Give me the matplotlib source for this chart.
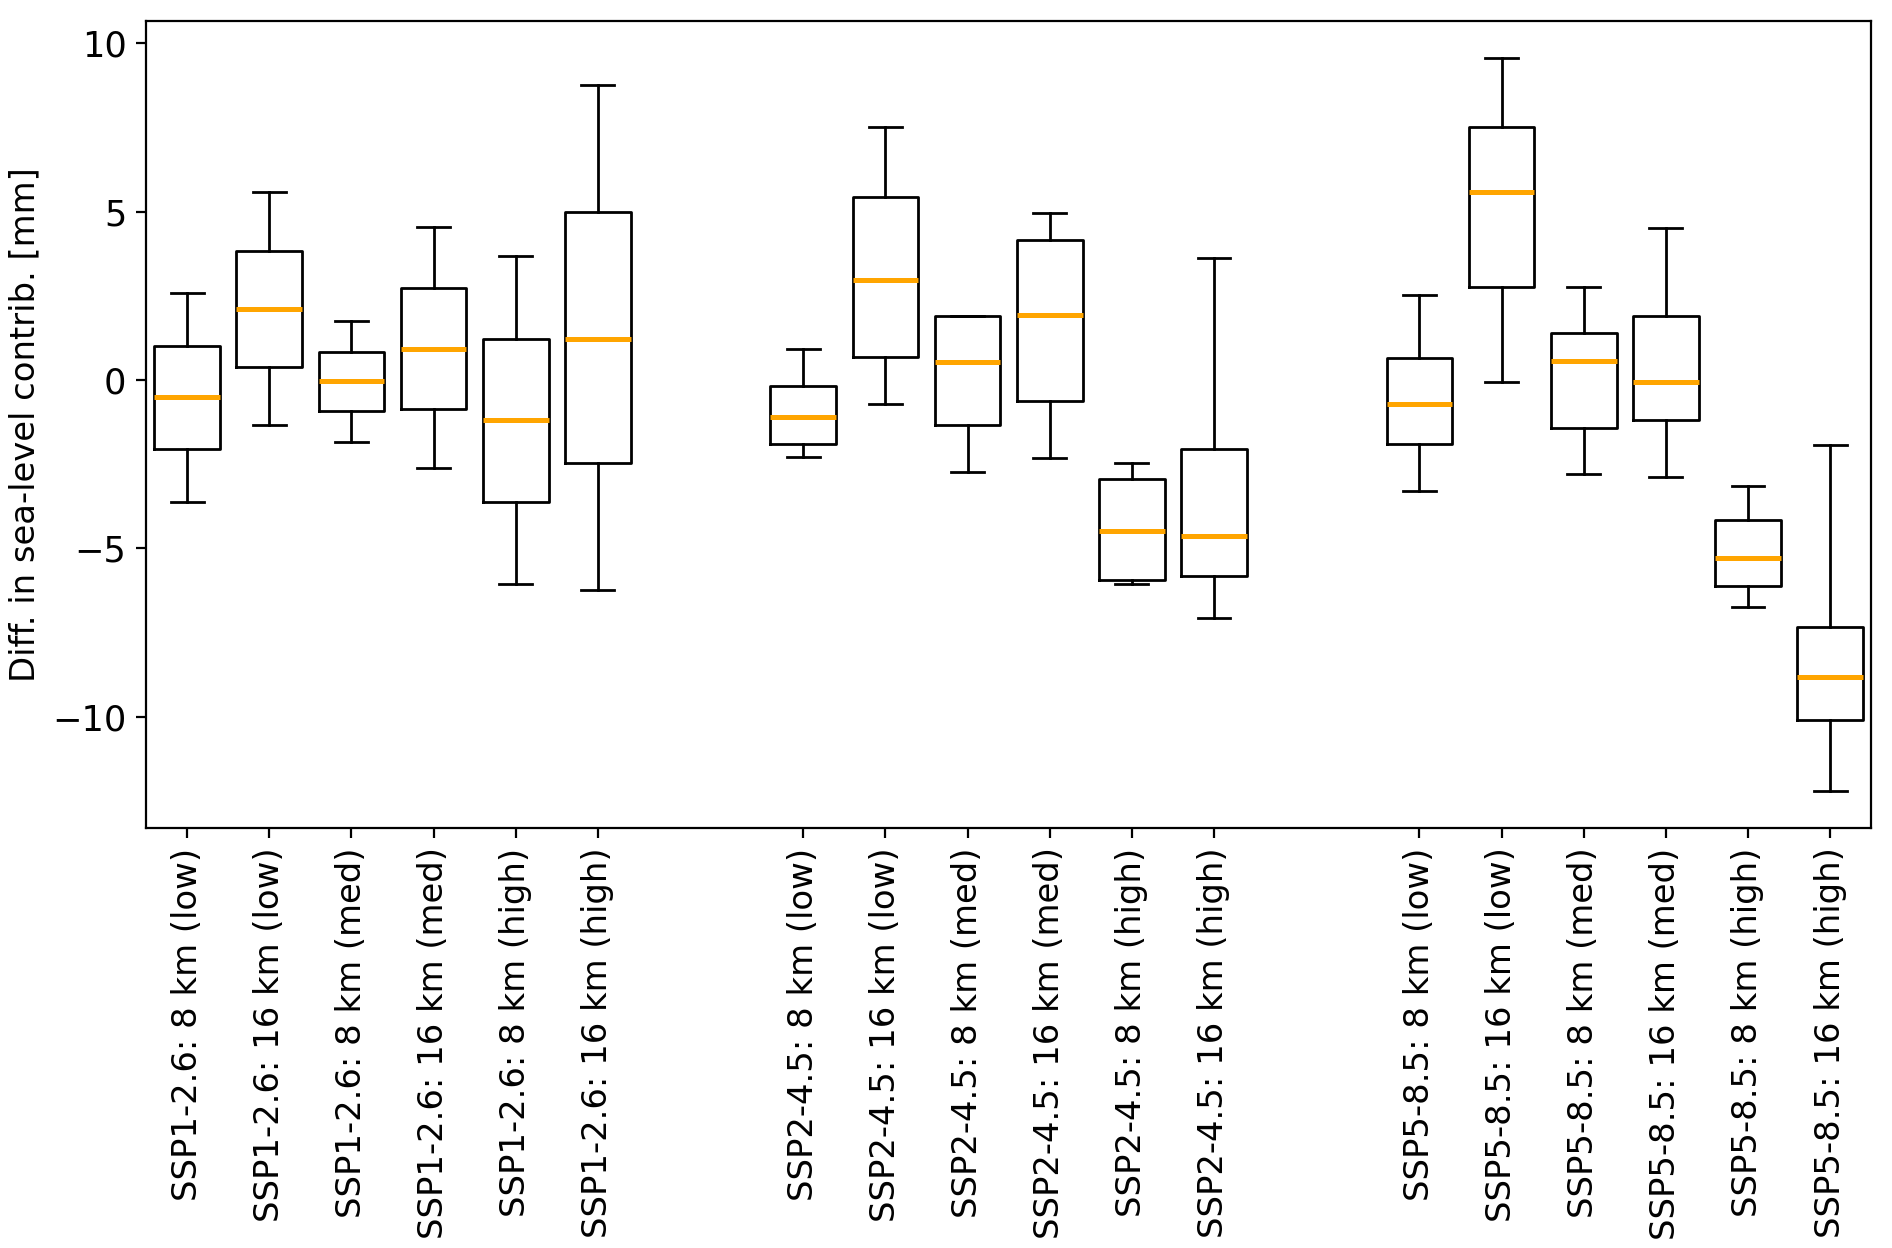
import numpy as np
import matplotlib
matplotlib.use('Agg')
import matplotlib.pyplot as plt

# box statistics (mm)
labels = ['SSP1-2.6: 8 km (low)', 'SSP1-2.6: 16 km (low)', 'SSP1-2.6: 8 km (med)',
          'SSP1-2.6: 16 km (med)', 'SSP1-2.6: 8 km (high)', 'SSP1-2.6: 16 km (high)',
          'SSP2-4.5: 8 km (low)', 'SSP2-4.5: 16 km (low)', 'SSP2-4.5: 8 km (med)',
          'SSP2-4.5: 16 km (med)', 'SSP2-4.5: 8 km (high)', 'SSP2-4.5: 16 km (high)',
          'SSP5-8.5: 8 km (low)', 'SSP5-8.5: 16 km (low)', 'SSP5-8.5: 8 km (med)',
          'SSP5-8.5: 16 km (med)', 'SSP5-8.5: 8 km (high)', 'SSP5-8.5: 16 km (high)']

positions = [1, 2, 3, 4, 5, 6,
             8.5, 9.5, 10.5, 11.5, 12.5, 13.5,
             16, 17, 18, 19, 20, 21]

whislo = [-3.62, -1.33, -1.83, -2.62, -6.06, -6.24,
          -2.29, -0.72, -2.72, -2.33, -6.06, -7.06,
          -3.30, -0.07, -2.80, -2.87, -6.74, -12.22]
q1 = [-2.04, 0.39, -0.93, -0.86, -3.62, -2.47,
      -1.90, 0.68, -1.33, -0.61, -5.95, -5.81,
      -1.90, 2.76, -1.43, -1.18, -6.13, -10.10]
med = [-0.50, 2.11, -0.04, 0.93, -1.18, 1.22,
       -1.11, 2.97, 0.54, 1.94, -4.48, -4.62,
       -0.72, 5.59, 0.57, -0.07, -5.30, -8.82]
q3 = [1.00, 3.83, 0.82, 2.72, 1.22, 4.98,
      -0.18, 5.45, 1.90, 4.16, -2.94, -2.04,
      0.65, 7.53, 1.40, 1.90, -4.16, -7.35]
whishi = [2.58, 5.59, 1.76, 4.55, 3.69, 8.75,
          0.93, 7.53, 1.90, 4.95, -2.47, 3.62,
          2.54, 9.57, 2.76, 4.52, -3.15, -1.94]

stats = []
for i in range(len(labels)):
    stats.append({'whislo': whislo[i], 'q1': q1[i], 'med': med[i],
                  'q3': q3[i], 'whishi': whishi[i], 'fliers': []})

fs = 12.2

fig, ax = plt.subplots(figsize=(9.46, 6.24), dpi=200)
fig.subplots_adjust(left=0.0772, right=0.989, top=0.983, bottom=0.3365)

ax.bxp(stats, positions=positions, widths=0.8, showfliers=False,
       medianprops=dict(color='orange', linewidth=1.8))

ax.set_xticks(positions)
ax.set_xticklabels(labels, rotation=90, fontsize=fs)
ax.tick_params(axis='y', labelsize=fs + 0.5)
ax.set_xlim(0.5, 21.5)
ax.set_ylabel('Diff. in sea-level contrib. [mm]', fontsize=fs)

fig.savefig('out.png', dpi=200)
